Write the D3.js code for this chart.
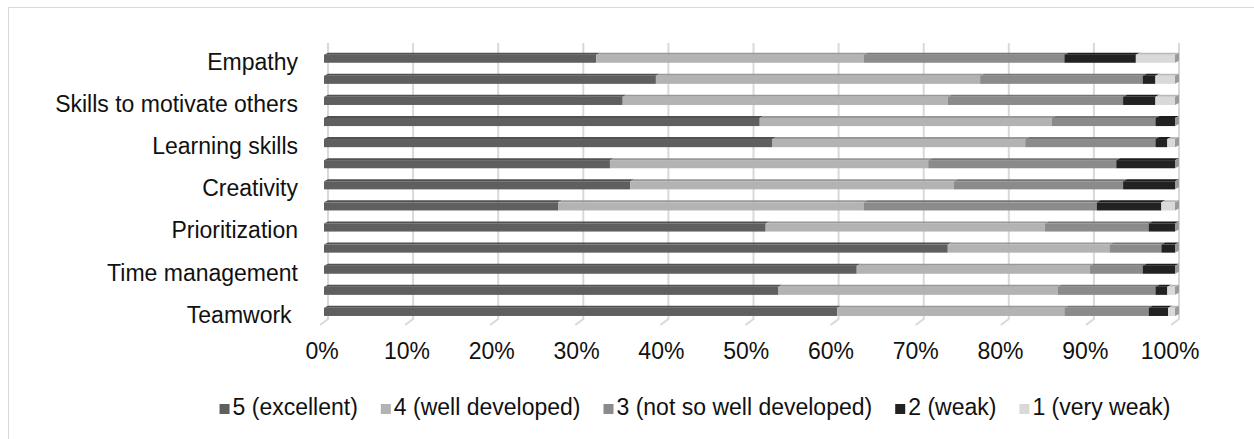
<!DOCTYPE html>
<html>
<head>
<meta charset="utf-8">
<script src="https://cdn.jsdelivr.net/npm/d3@7"></script>
<style>
  html, body { margin: 0; padding: 0; background: #ffffff; }
  svg { display: block; }
  text { font-family: "Liberation Sans", Arial, sans-serif; fill: #111111; }
</style>
</head>
<body>
<svg id="chart" width="1254" height="439"></svg>
<script>
// Skills, top to bottom; only every other name is printed on the axis
const categories = [
  "Empathy", "Communication skills", "Skills to motivate others", "Problem solving",
  "Learning skills", "Critical thinking", "Creativity", "Adaptability",
  "Prioritization", "Responsibility", "Time management", "Decision making", "Teamwork\u00A0"
];

// Share of answers per rating (percent of respondents)
const excellent     = [32.0, 39.0, 35.1, 51.2, 52.7, 33.6, 36.0, 27.5, 51.9, 73.3, 62.6, 53.4, 60.3];
const wellDeveloped = [31.4, 38.1, 38.2, 34.3, 29.7, 37.4, 38.0, 35.9, 32.8, 19.0, 27.4, 32.8, 26.7];
const notSoWell     = [23.6, 19.1, 20.6, 12.2, 15.3, 22.1, 19.9, 27.4, 12.2,  6.1,  6.2, 11.5,  9.9];
const weak          = [ 8.4,  1.5,  3.8,  2.3,  1.4,  6.9,  6.1,  7.6,  3.1,  1.6,  3.8,  1.4,  2.3];
const veryWeak      = [ 4.6,  2.3,  2.3,  0.0,  0.9,  0.0,  0.0,  1.6,  0.0,  0.0,  0.0,  0.9,  0.8];

const seriesNames = ["5 (excellent)", "4 (well developed)", "3 (not so well developed)", "2 (weak)", "1 (very weak)"];
const seriesColors = ["#5f5f5f", "#b3b3b3", "#8b8b8b", "#222222", "#d9d9d9"];
const tickValues = [0, 10, 20, 30, 40, 50, 60, 70, 80, 90, 100];

const rows = categories.map((c, i) => ({
  cat: c,
  s0: excellent[i], s1: wellDeveloped[i], s2: notSoWell[i], s3: weak[i], s4: veryWeak[i]
}));
const keys = ["s0", "s1", "s2", "s3", "s4"];
const stacked = d3.stack().keys(keys)(rows);

const svg = d3.select("#chart");
const W = 1254, H = 439;

// chart area frame (continues past the right and bottom edges)
svg.append("rect")
  .attr("x", 8.5).attr("y", 7.5)
  .attr("width", W + 100).attr("height", H + 100)
  .attr("fill", "#ffffff").attr("stroke", "#d9d9d9").attr("stroke-width", 1);

const x = d3.scaleLinear().domain([0, 100]).range([324, 1175]);
const xFloor = d3.scaleLinear().domain([0, 100]).range([321.7, 1169.6]);
const y = d3.scaleBand().domain(categories).range([47.15, 321.45])
  .paddingInner(0.52).paddingOuter(0.26);

const depthX = 4, depthY = 2;

// back-wall gridlines with their slanted feet on the floor
const grid = svg.append("g");
grid.selectAll("path").data(tickValues).join("path")
  .attr("d", t => {
    const xb = x(t) + depthX;
    return `M${xb},43 L${xb},319 L${xb - 8},325`;
  })
  .attr("fill", "none").attr("stroke", "#d9d9d9").attr("stroke-width", 2);

// stacked 3D bars
const bw = y.bandwidth();
const layers = svg.append("g").selectAll("g").data(stacked).join("g");
layers.each(function(layer, li) {
  const col = seriesColors[li];
  const g = d3.select(this);
  const segs = layer.filter(d => d[1] - d[0] > 0.001);
  // top face
  g.selectAll("path.top").data(segs).join("path").attr("class", "top")
    .attr("d", d => {
      const x0 = x(d[0]), x1 = x(d[1]), yt = y(d.data.cat);
      return `M${x0},${yt + depthY} L${x1},${yt + depthY} L${x1 + depthX},${yt} L${x0 + depthX},${yt} Z`;
    })
    .attr("fill", d3.color(col).darker(0.45));
  // front face
  g.selectAll("rect.front").data(segs).join("rect").attr("class", "front")
    .attr("x", d => x(d[0]))
    .attr("y", d => y(d.data.cat) + depthY)
    .attr("width", d => x(d[1]) - x(d[0]))
    .attr("height", bw - depthY)
    .attr("fill", col);
});

// right end caps of the bars
svg.append("g").selectAll("path").data(rows).join("path")
  .attr("d", d => {
    const x1 = x(100), yt = y(d.cat);
    return `M${x1},${yt + depthY} L${x1 + depthX},${yt} L${x1 + depthX},${yt + bw - depthY} L${x1},${yt + bw} Z`;
  })
  .attr("fill", "#9a9a9a");

// category axis
const yAxis = d3.axisLeft(y).tickSize(0).tickPadding(0)
  .tickFormat((d, i) => (i % 2 === 0 ? d : ""));
const gy = svg.append("g").attr("transform", "translate(298,0)").call(yAxis);
gy.select(".domain").remove();
gy.selectAll("text")
  .attr("dy", "0.52em")
  .style("font-size", "23px")
  .style("font-family", "'Liberation Sans', Arial, sans-serif")
  .attr("fill", "#111111");

// percentage axis
const xAxis = d3.axisBottom(xFloor).tickValues(tickValues).tickSize(0).tickPadding(0)
  .tickFormat(d => d + "%");
const gx = svg.append("g").attr("transform", "translate(0,343)").call(xAxis);
gx.select(".domain").remove();
gx.selectAll("text")
  .style("font-size", "23px")
  .style("font-family", "'Liberation Sans', Arial, sans-serif")
  .attr("fill", "#111111");

// legend
const legend = svg.append("g");
const items = legend.selectAll("g").data(seriesNames).join("g");
items.append("rect")
  .attr("x", 0).attr("y", -11).attr("width", 10).attr("height", 10)
  .attr("fill", (d, i) => seriesColors[i]);
items.append("text")
  .attr("x", 13).attr("y", 0)
  .style("font-size", "23px")
  .text(d => d);
const gap = 23;
let cursor = 0;
const widths = [];
items.each(function() {
  const w = 13 + d3.select(this).select("text").node().getComputedTextLength();
  widths.push(w);
});
const total = d3.sum(widths) + gap * (widths.length - 1);
const center = 695;
cursor = center - total / 2;
items.attr("transform", (d, i) => {
  const t = `translate(${cursor},415)`;
  cursor += widths[i] + gap;
  return t;
});
</script>
</body>
</html>
